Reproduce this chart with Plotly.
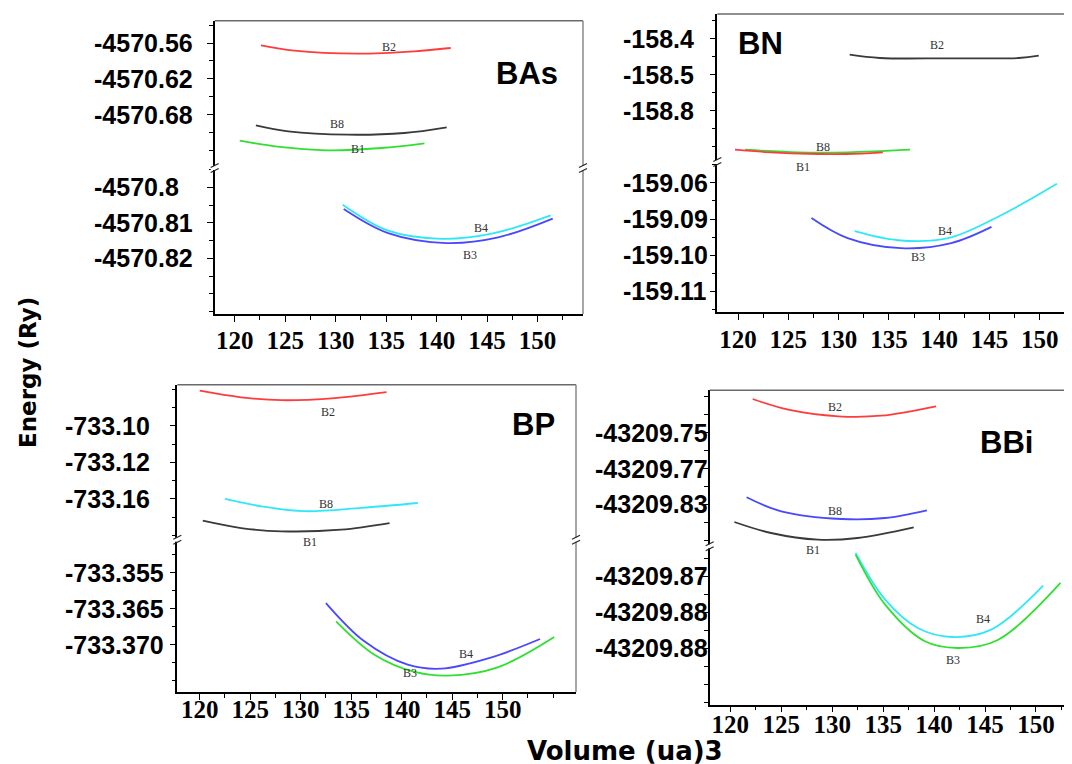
import plotly.graph_objects as go

W, H = 1072, 764

# ---------------- data ----------------
volume_ticks = [120, 125, 130, 135, 140, 145, 150]
volume_tick_text = ["120", "125", "130", "135", "140", "145", "150"]

# BAs
bas_b2_x = [122.6, 125.9, 132.2, 137.8, 141.4]
bas_b2_y = [-4570.5639, -4570.5729, -4570.5779, -4570.5739, -4570.5684]
bas_b8_x = [122.1, 125.3, 131.2, 136.8, 141.0]
bas_b8_y = [-4570.6979, -4570.7080, -4570.7137, -4570.7108, -4570.7013]
bas_b1_x = [120.5, 124.0, 129.2, 134.5, 138.8]
bas_b1_y = [-4570.7237, -4570.7331, -4570.7398, -4570.7360, -4570.7281]
bas_b4_x = [130.7, 135.2, 140.5, 145.7, 151.3]
bas_b4_y = [-4570.8049, -4570.8122, -4570.8145, -4570.8129, -4570.8079]
bas_b3_x = [130.8, 135.2, 141.0, 146.1, 151.5]
bas_b3_y = [-4570.8061, -4570.8129, -4570.8157, -4570.8141, -4570.8088]
bas_up_ticks = [-4570.56, -4570.62, -4570.68]
bas_up_text = ["-4570.56", "-4570.62", "-4570.68"]
bas_lo_ticks = [-4570.80, -4570.81, -4570.82]
bas_lo_text = ["-4570.8", "-4570.81", "-4570.82"]

# BN
bn_b2_x = [131.1, 134.1, 140.9, 147.9, 149.9]
bn_b2_y = [-158.4444, -158.4536, -158.4544, -158.4536, -158.4472]
bn_b8_x = [120.7, 126.0, 130.9, 137.1]
bn_b8_y = [-158.7084, -158.7156, -158.7156, -158.7084]
bn_b1_x = [119.7, 122.7, 128.0, 130.8, 134.4]
bn_b1_y = [-158.7084, -158.7148, -158.7203, -158.7203, -158.7156]
bn_b3_x = [127.3, 130.9, 136.2, 141.2, 145.2]
bn_b3_y = [-159.0897, -159.0953, -159.0981, -159.0967, -159.0922]
bn_b4_x = [131.6, 135.9, 140.9, 145.9, 151.7]
bn_b4_y = [-159.0934, -159.0959, -159.0953, -159.0893, -159.0802]
bn_up_ticks = [-158.4, -158.5, -158.6]
bn_up_text = ["-158.4", "-158.5", "-158.8"]
bn_lo_ticks = [-159.08, -159.09, -159.10, -159.11]
bn_lo_text = ["-159.06", "-159.09", "-159.10", "-159.11"]

# BP
bp_b2_x = [120.0, 124.1, 128.1, 133.4, 138.5]
bp_b2_y = [-733.0807, -733.0843, -733.0859, -733.0847, -733.0815]
bp_b8_x = [122.5, 126.1, 130.4, 136.0, 141.6]
bp_b8_y = [-733.1400, -733.1440, -733.1467, -733.1449, -733.1422]
bp_b1_x = [120.3, 124.1, 128.1, 134.0, 138.8]
bp_b1_y = [-733.1519, -733.1559, -733.1577, -733.1568, -733.1532]
bp_b4_x = [132.5, 136.3, 140.6, 143.9, 148.9, 153.7]
bp_b4_y = [-733.36424, -733.36956, -733.37281, -733.37336, -733.37178, -733.36924]
bp_b3_x = [133.5, 137.3, 141.3, 144.6, 149.5, 155.1]
bp_b3_y = [-733.36678, -733.37142, -733.37382, -733.37433, -733.37317, -733.36896]
bp_up_ticks = [-733.10, -733.12, -733.14]
bp_up_text = ["-733.10", "-733.12", "-733.16"]
bp_lo_ticks = [-733.360, -733.365, -733.370]
bp_lo_text = ["-733.355", "-733.365", "-733.370"]

# BBi
bbi_b2_x = [122.2, 125.7, 130.6, 134.8, 140.2]
bbi_b2_y = [-43209.73139, -43209.73733, -43209.74100, -43209.74067, -43209.73544]
bbi_b8_x = [121.6, 125.0, 130.9, 135.2, 139.3]
bbi_b8_y = [-43209.78600, -43209.79378, -43209.79806, -43209.79750, -43209.79323]
bbi_b1_x = [120.4, 124.0, 128.6, 132.5, 138.0]
bbi_b1_y = [-43209.79973, -43209.80584, -43209.80956, -43209.80862, -43209.80267]
bbi_b4_x = [132.3, 135.2, 138.4, 141.7, 145.6, 150.7]
bbi_b4_y = [-43209.86353, -43209.87650, -43209.88436, -43209.88686, -43209.88483, -43209.87261]
bbi_b3_x = [132.3, 135.2, 139.1, 142.4, 146.3, 152.4]
bbi_b3_y = [-43209.86400, -43209.87789, -43209.88806, -43209.88992, -43209.88761, -43209.87186]
bbi_up_ticks = [-43209.75, -43209.77, -43209.79]
bbi_up_text = ["-43209.75", "-43209.77", "-43209.83"]
bbi_lo_ticks = [-43209.87, -43209.88, -43209.89]
bbi_lo_text = ["-43209.87", "-43209.88", "-43209.88"]

# ---------------- styling ----------------
RED, GREEN, BLACK, CYAN, BLUE = "#ff3b3b", "#30e030", "#3a3a3a", "#30e8f5", "#4848ff"

panels = [
    dict(title="BAs", title_pos=(149.0, -4570.6103, "up"),
         box=(206.7, 575.0, 12.7, 160.0, 306.0), xr=[118.02, 154.5], xstand=-3,
         up_r=[-4570.7695, -4570.5226], lo_r=[-4570.83569, -4570.79456],
         up_t=bas_up_ticks, up_txt=bas_up_text, lo_t=bas_lo_ticks, lo_txt=bas_lo_text,
         up_minor=0.03, lo_minor=0.005, lab_px=84,
         curves=[("B2", bas_b2_x, bas_b2_y, RED, "up", (135.3, -4570.5667, "up")),
                 ("B8", bas_b8_x, bas_b8_y, BLACK, "up", (130.1, -4570.6958, "up")),
                 ("B1", bas_b1_x, bas_b1_y, GREEN, "up", (132.2, -4570.7377, "up")),
                 ("B4", bas_b4_x, bas_b4_y, CYAN, "lo", (144.4, -4570.8115, "lo")),
                 ("B3", bas_b3_x, bas_b3_y, BLUE, "lo", (143.3, -4570.8190, "lo"))]),
    dict(title="BN", title_pos=(122.2, -158.412, "up"),
         box=(709.3, 1070.0, 6.0, 154.0, 304.0), xr=[117.94, 153.8], xstand=-2,
         up_r=[-158.7425, -158.3314], lo_r=[-159.11583, -159.07417],
         up_t=bn_up_ticks, up_txt=bn_up_text, lo_t=bn_lo_ticks, lo_txt=bn_lo_text,
         up_minor=0.05, lo_minor=0.005, lab_px=613,
         curves=[("B2", bn_b2_x, bn_b2_y, BLACK, "up", (139.8, -158.4183, "up")),
                 ("B8", bn_b8_x, bn_b8_y, GREEN, "up", (128.4, -158.7009, "up")),
                 ("B1", bn_b1_x, bn_b1_y, RED, "up", (126.5, -159.0756, "lo")),
                 ("B3", bn_b3_x, bn_b3_y, BLUE, "lo", (137.9, -159.1006, "lo")),
                 ("B4", bn_b4_x, bn_b4_y, CYAN, "lo", (140.6, -159.0933, "lo"))]),
    dict(title="BP", title_pos=(153.1, -733.0993, "up"),
         box=(169.3, 568.0, 376.7, 531.7, 684.0), xr=[117.78, 157.26], xstand=-12,
         up_r=[-733.1623, -733.0774], lo_r=[-733.3766, -733.35544],
         up_t=bp_up_ticks, up_txt=bp_up_text, lo_t=bp_lo_ticks, lo_txt=bp_lo_text,
         up_minor=0.01, lo_minor=0.0025, lab_px=55,
         curves=[("B2", bp_b2_x, bp_b2_y, RED, "up", (132.7, -733.0925, "up")),
                 ("B8", bp_b8_x, bp_b8_y, CYAN, "up", (132.5, -733.1426, "up")),
                 ("B1", bp_b1_x, bp_b1_y, BLACK, "up", (130.9, -733.3558, "lo")),
                 ("B4", bp_b4_x, bp_b4_y, BLUE, "lo", (146.4, -733.37128, "lo")),
                 ("B3", bp_b3_x, bp_b3_y, GREEN, "lo", (140.8, -733.37396, "lo"))]),
    dict(title="BBi", title_pos=(147.1, -43209.75544, "up"),
         box=(701.7, 1071.7, 382.3, 538.3, 696.7), xr=[117.98, 154.29], xstand=-9,
         up_r=[-43209.81323, -43209.72655], lo_r=[-43209.90567, -43209.86167],
         up_t=bbi_up_ticks, up_txt=bbi_up_text, lo_t=bbi_lo_ticks, lo_txt=bbi_lo_text,
         up_minor=0.01, lo_minor=0.005, lab_px=585,
         curves=[("B2", bbi_b2_x, bbi_b2_y, RED, "up", (130.3, -43209.73583, "up")),
                 ("B8", bbi_b8_x, bbi_b8_y, BLUE, "up", (130.3, -43209.79345, "up")),
                 ("B1", bbi_b1_x, bbi_b1_y, BLACK, "up", (128.1, -43209.86261, "lo")),
                 ("B4", bbi_b4_x, bbi_b4_y, CYAN, "lo", (144.8, -43209.88186, "lo")),
                 ("B3", bbi_b3_x, bbi_b3_y, GREEN, "lo", (141.9, -43209.89333, "lo"))]),
]


def xd(px):
    return px / W


def yd(py):
    return 1 - py / H


fig = go.Figure()
layout = {}
annotations = []
shapes = []

TICKFONT_Y = dict(family="Liberation Sans", size=25, color="black", weight="bold")
TICKFONT_X = dict(family="Liberation Serif", size=25, color="black", weight="bold")

for i, p in enumerate(panels):
    k = i + 1
    xname = "x" if k == 1 else f"x{k}"
    up_n, lo_n = 2 * k - 1, 2 * k
    up_name = "y" if up_n == 1 else f"y{up_n}"
    lo_name = f"y{lo_n}"
    lx, rx, ty, bky, by = p["box"]

    layout["xaxis" if k == 1 else f"xaxis{k}"] = dict(
        domain=[xd(lx), xd(rx)], range=p["xr"], anchor=lo_name,
        showgrid=False, zeroline=False, showline=True, linecolor="black", linewidth=1.5,
        ticks="outside", ticklen=6, tickcolor="black", tickwidth=1.3,
        tickmode="array", tickvals=volume_ticks, ticktext=volume_tick_text,
        tickangle=0, tickfont=TICKFONT_X, ticklabelstandoff=p["xstand"],
        minor=dict(tickmode="linear", tick0=120, dtick=2.5, ticks="outside",
                   ticklen=4, tickcolor="black"),
    )
    for name, dom, rng, tv, minor in [
        (up_name, [yd(bky), yd(ty)], p["up_r"], p["up_t"], p["up_minor"]),
        (lo_name, [yd(by), yd(bky)], p["lo_r"], p["lo_t"], p["lo_minor"]),
    ]:
        key = "yaxis" if name == "y" else "yaxis" + name[1:]
        layout[key] = dict(
            domain=dom, range=rng, anchor=xname,
            showgrid=False, zeroline=False, showline=True, linecolor="black", linewidth=1.5,
            ticks="outside", ticklen=6, tickcolor="black", tickwidth=1.3,
            tickmode="array", tickvals=tv, showticklabels=False,
            minor=dict(tickmode="linear", tick0=tv[0], dtick=minor, ticks="outside",
                       ticklen=4, tickcolor="black"),
        )

    # y tick labels (left aligned as in the reference)
    for tv, tt, yn in [(p["up_t"], p["up_txt"], up_name), (p["lo_t"], p["lo_txt"], lo_name)]:
        for v, t in zip(tv, tt):
            annotations.append(dict(
                x=xd(p["lab_px"]), xref="paper", xanchor="left",
                y=v, yref=yn, yanchor="middle", text=t, showarrow=False,
                font=TICKFONT_Y))

    # curves
    for label, xs, ys, col, part, lab in p["curves"]:
        fig.add_trace(go.Scatter(
            x=xs, y=ys, mode="lines", line=dict(color=col, width=1.8, shape="spline"),
            xaxis=xname, yaxis=up_name if part == "up" else lo_name,
            showlegend=False, hoverinfo="skip"))
        annotations.append(dict(
            x=lab[0], y=lab[1], xref=xname, yref=up_name if lab[2] == "up" else lo_name,
            xanchor="center", yanchor="middle",
            text=label, showarrow=False,
            font=dict(family="Liberation Serif", size=12, color="#333333")))

    # panel title
    tp = p["title_pos"]
    annotations.append(dict(
        x=tp[0], y=tp[1], xref=xname, yref=up_name if tp[2] == "up" else lo_name,
        xanchor="center", yanchor="middle",
        text=p["title"], showarrow=False,
        font=dict(family="Liberation Sans", size=31, color="black", weight="bold")))

    # top and right frame lines
    shapes.append(dict(type="line", xref="paper", yref="paper",
                       x0=xd(lx), x1=xd(rx), y0=yd(ty), y1=yd(ty),
                       line=dict(color="#6a6a6a", width=1.5)))
    shapes.append(dict(type="line", xref="paper", yref="paper",
                       x0=xd(rx), x1=xd(rx), y0=yd(ty), y1=yd(by),
                       line=dict(color="#8a8a8a", width=1.5)))
    # axis break marks
    for bx in (lx, rx):
        shapes.append(dict(type="rect", xref="paper", yref="paper",
                           x0=xd(bx - 4), x1=xd(bx + 4), y0=yd(bky + 2), y1=yd(bky - 2),
                           fillcolor="white", line=dict(width=0), layer="above"))
        for off in (-2.5, 2.5):
            shapes.append(dict(type="line", xref="paper", yref="paper",
                               x0=xd(bx - 4), x1=xd(bx + 4),
                               y0=yd(bky + off + 2), y1=yd(bky + off - 2),
                               line=dict(color="#222222", width=1.2), layer="above"))

# axis titles
annotations.append(dict(
    x=xd(20), y=yd(365), xref="paper", yref="paper", text="Energy (Ry)",
    xanchor="center", yanchor="middle",
    textangle=-90, showarrow=False,
    font=dict(family="DejaVu Sans", size=23, color="black", weight="bold")))
annotations.append(dict(
    x=xd(617), y=yd(743), xref="paper", yref="paper", text="Volume (ua)3",
    xanchor="center", yanchor="middle", borderpad=0,
    showarrow=False,
    font=dict(family="DejaVu Sans", size=26, color="black", weight="bold")))

fig.update_layout(
    width=W, height=H, margin=dict(l=0, r=0, t=0, b=0),
    paper_bgcolor="white", plot_bgcolor="white",
    annotations=annotations, shapes=shapes, **layout)

fig.write_html("out.html")
